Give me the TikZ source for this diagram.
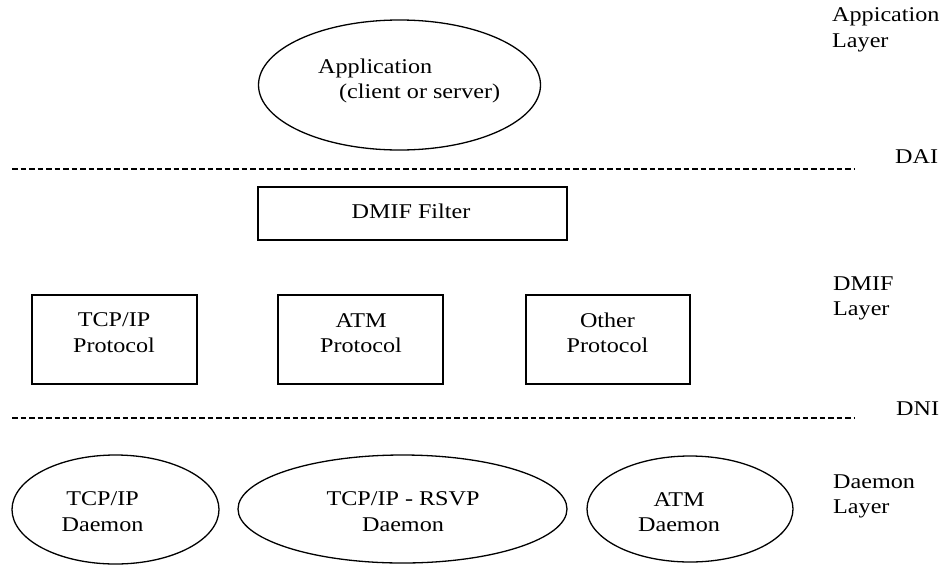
\documentclass[tikz,border=0pt]{standalone}
\usepackage{fontspec}
\setmainfont{Liberation Serif}[FakeStretch=1.15]
\usetikzlibrary{shapes.geometric}
\begin{document}
\begin{tikzpicture}[x=1pt,y=-1pt,
  lbl/.style={font=\fontsize{21}{25.5}\selectfont, inner sep=0pt, align=center},
  lbll/.style={font=\fontsize{21}{25.5}\selectfont, inner sep=0pt, align=left},
  box/.style={draw, line width=1.4pt, rectangle, inner sep=0pt},
  oval/.style={draw, line width=1.3pt, ellipse, inner sep=0pt},
  sep/.style={line width=1.2pt, dash pattern=on 5.5pt off 3pt}
]
\useasboundingbox (0,0) rectangle (941,565);

% application layer
\node[oval, minimum width=282, minimum height=130] (app) at (399.5,85) {};
\node[lbll, anchor=north west] (apptxt) at (318,58.7) {Application\\\hspace*{21pt}(client or server)};
\node[lbll, anchor=north west] (applayer) at (832,7.7) {Appication\\Layer};

% DAI
\coordinate (dail) at (12,169);
\coordinate (dair) at (855,169);
\draw[sep] (dail) -- (dair);
\node[lbll, anchor=base west] (dai) at (895,163) {DAI};

% DMIF layer
\node[box, minimum width=309, minimum height=53] (filter) at (412.5,213.5) {};
\node[lbl] (filtertxt) at (411,210.9) {DMIF Filter};

\node[box, minimum width=165, minimum height=89] (tcpp) at (114.5,339.5) {};
\node[lbl] (tcpptxt) at (114,332.7) {TCP/IP\\Protocol};
\node[box, minimum width=165, minimum height=89] (atmp) at (360.5,339.5) {};
\node[lbl] (atmptxt) at (361,333) {ATM\\Protocol};
\node[box, minimum width=164, minimum height=89] (othp) at (608,339.5) {};
\node[lbl] (othptxt) at (607.5,332.9) {Other\\Protocol};
\node[lbll, anchor=north west] (dmiflayer) at (833,276.1) {DMIF\\Layer};

% DNI
\coordinate (dnil) at (12,418);
\coordinate (dnir) at (855,418);
\draw[sep] (dnil) -- (dnir);
\node[lbll, anchor=base west] (dni) at (896,415) {DNI};

% Daemon layer
\node[oval, minimum width=207, minimum height=109] (tcpd) at (115.5,509.5) {};
\node[lbl] (tcpdtxt) at (102.5,511.7) {TCP/IP\\Daemon};
\node[oval, minimum width=329, minimum height=108] (rsvpd) at (402.5,509) {};
\node[lbl] (rsvpdtxt) at (403,511.7) {TCP/IP - RSVP\\Daemon};
\node[oval, minimum width=206, minimum height=106] (atmd) at (690,509) {};
\node[lbl] (atmdtxt) at (679,512) {ATM\\Daemon};
\node[lbll, anchor=north west] (daemonlayer) at (833,474.1) {Daemon\\Layer};
\end{tikzpicture}
\end{document}
